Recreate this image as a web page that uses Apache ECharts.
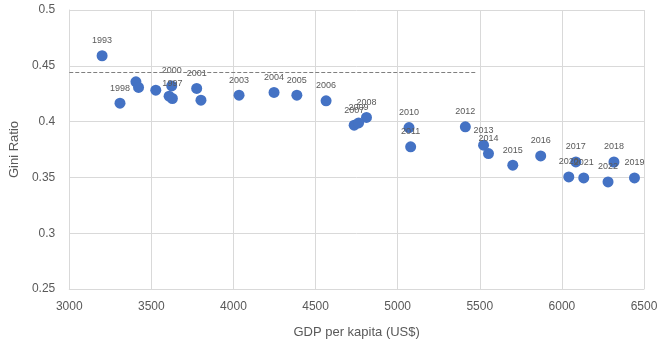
<!DOCTYPE html>
<html>
<head>
<meta charset="utf-8">
<script src="https://cdn.jsdelivr.net/npm/echarts@6/dist/echarts.min.js"></script>
<style>
  html, body { margin: 0; padding: 0; background: #fff; }
  #chart { width: 662px; height: 347px; }
</style>
</head>
<body>
<div id="chart"></div>
<script>
// values
const years = [1993, 1994, 1995, 1996, 1997, 1998, 1999, 2000, 2001, 2002,
  2003, 2004, 2005, 2006, 2007, 2008, 2009, 2010, 2011, 2012,
  2013, 2014, 2015, 2016, 2017, 2018, 2019, 2020, 2021, 2022]
const gdp = [3200, 3406, 3527, 3608, 3628, 3309, 3422, 3624, 3776, 3802,
  4034, 4247, 4386, 4564, 4735, 4810, 4762, 5069, 5079, 5412,
  5523, 5553, 5701, 5871, 6085, 6317, 6442, 6042, 6133, 6281]
const gini = [0.459, 0.4356, 0.4282, 0.4228, 0.4207, 0.4165, 0.4306, 0.432, 0.4297, 0.4192,
  0.4237, 0.4261, 0.4237, 0.4186, 0.3968, 0.4037, 0.3988, 0.3947, 0.3774, 0.3953,
  0.3789, 0.3714, 0.3609, 0.3692, 0.3639, 0.3638, 0.3495, 0.3504, 0.3495, 0.3459]
// years whose label is not visible in the picture
const hiddenLabels = [1994, 1995, 1996, 1999, 2002]
// dashed reference line: x start, x end, y
const refLine = [3000, 5480, 0.444]

const xTicks = [3000, 6500, 500]
const yTicks = [0.25, 0.5, 0.05]

const chart = echarts.init(document.getElementById('chart'), null, { renderer: 'canvas' })

const points = years.map((y, i) => ({
  value: [gdp[i], gini[i]],
  name: String(y),
  label: { show: !hiddenLabels.includes(y) },
}))

const textColor = '#595959'
const gridColor = '#d9d9d9'

chart.setOption({
  animation: false,
  backgroundColor: '#fff',
  textStyle: { fontFamily: 'Liberation Sans, Arial, sans-serif' },
  grid: { left: 67, right: 18, top: 10, bottom: 58 },
  xAxis: {
    type: 'value',
    min: xTicks[0],
    max: xTicks[1],
    interval: xTicks[2],
    name: 'GDP per kapita (US$)',
    nameLocation: 'middle',
    nameGap: 37,
    nameTextStyle: { color: textColor, fontSize: 13 },
    axisLine: { show: true, lineStyle: { color: gridColor } },
    axisTick: { show: false },
    axisLabel: { color: textColor, fontSize: 12, margin: 12, formatter: (v) => String(v) },
    splitLine: { show: true, lineStyle: { color: gridColor } },
  },
  yAxis: {
    type: 'value',
    min: yTicks[0],
    max: yTicks[1],
    interval: yTicks[2],
    name: 'Gini Ratio',
    nameLocation: 'middle',
    nameGap: 44,
    nameTextStyle: { color: textColor, fontSize: 13 },
    axisLine: { show: true, lineStyle: { color: gridColor } },
    axisTick: { show: false },
    axisLabel: { color: textColor, fontSize: 12, margin: 14 },
    splitLine: { show: true, lineStyle: { color: gridColor } },
  },
  series: [
    {
      type: 'scatter',
      symbolSize: 11,
      itemStyle: { color: '#4472C4', opacity: 1 },
      label: {
        position: 'top',
        distance: 5,
        color: textColor,
        fontSize: 9,
        formatter: (p) => p.name,
      },
      data: points,
      markLine: {
        silent: true,
        symbol: 'none',
        label: { show: false },
        lineStyle: { color: '#7f7f7f', type: 'dashed', width: 1 },
        data: [[{ coord: [refLine[0], refLine[2]] }, { coord: [refLine[1], refLine[2]] }]],
      },
    },
  ],
})
</script>
</body>
</html>
